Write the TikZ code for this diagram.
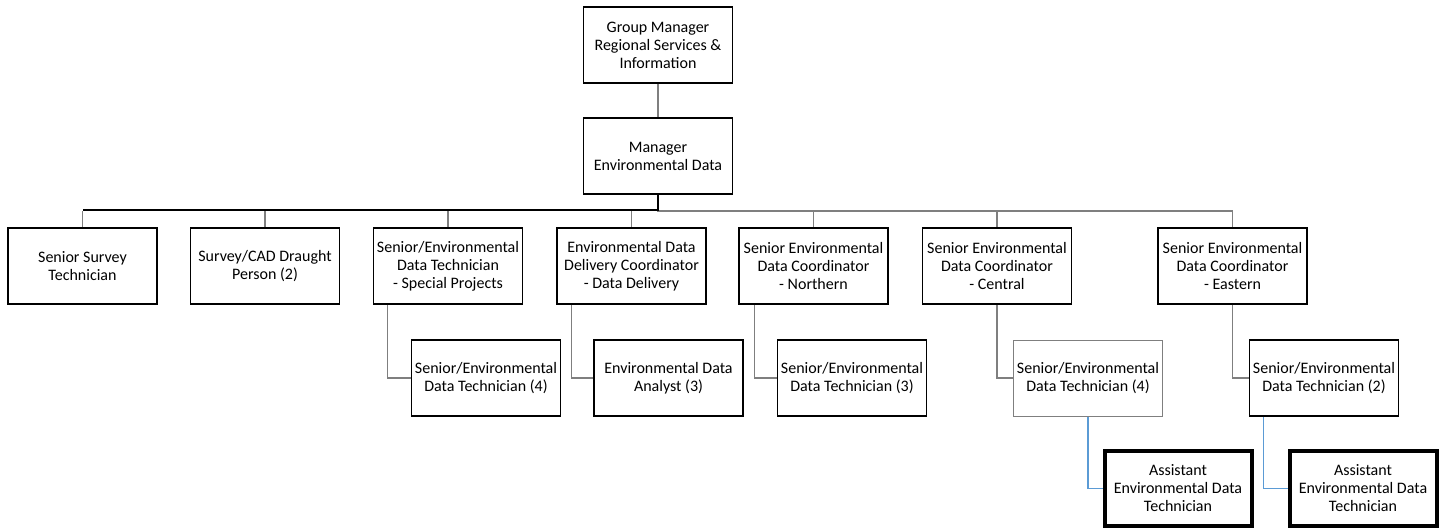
\documentclass[tikz,border=0pt]{standalone}
\usepackage{fontspec}
\setmainfont{Carlito}
\definecolor{lgray}{HTML}{7F7F7F}
\definecolor{lblue}{HTML}{5B9BD5}
\begin{document}
\begin{tikzpicture}[x=1pt,y=-1pt,
  box/.style={draw=black,line width=1.8pt,align=center,inner sep=0pt,
    font=\fontsize{16}{18}\selectfont,minimum width=149pt,minimum height=76pt},
  thinbox/.style={box,draw=lgray,line width=1pt},
  heavybox/.style={box,line width=4pt,minimum width=147pt,minimum height=75pt},
  conn/.style={draw=lgray,line width=1.2pt},
  bus/.style={draw=black,line width=2.4pt},
  blueconn/.style={draw=lblue,line width=1.4pt}]
\useasboundingbox (0,0) rectangle (1447,532);
% level 0/1
\node[box] (top) at (658,45) {Group Manager\\Regional Services \&\\Information};
\node[box] (mgr) at (658,156) {Manager\\Environmental Data};
% level 2
\node[box] (b1) at (82.5,266) {Senior Survey\\Technician};
\node[box] (b2) at (265,266) {Survey/CAD Draught\\Person (2)};
\node[box] (b3) at (448,266) {Senior/Environmental\\Data Technician\\- Special Projects};
\node[box] (b4) at (631.5,266) {Environmental Data\\Delivery Coordinator\\- Data Delivery};
\node[box] (b5) at (813.5,266) {Senior Environmental\\Data Coordinator\\- Northern};
\node[box] (b6) at (997,266) {Senior Environmental\\Data Coordinator\\- Central};
\node[box] (b7) at (1232.5,266) {Senior Environmental\\Data Coordinator\\- Eastern};
% level 3
\node[box] (c3) at (486,378) {Senior/Environmental\\Data Technician (4)};
\node[box] (c4) at (668.5,378) {Environmental Data\\Analyst (3)};
\node[box] (c5) at (852,378) {Senior/Environmental\\Data Technician (3)};
\node[thinbox] (c6) at (1088,378) {Senior/Environmental\\Data Technician (4)};
\node[box] (c7) at (1324,378) {Senior/Environmental\\Data Technician (2)};
% level 4
\node[heavybox] (d6) at (1178,488.5) {Assistant\\Environmental Data\\Technician};
\node[heavybox] (d7) at (1363,488.5) {Assistant\\Environmental Data\\Technician};
% bus
\coordinate (busL) at (82.5,210);
\coordinate (busM) at (658,210);
\coordinate (busR) at (1232.5,211);
\draw[conn] (top.south) -- (mgr.north);
\draw[conn] (busM) -- (658,211) -- (busR) -- (b7.north);
\foreach \b in {b1,b2,b3,b4,b5,b6}{
  \draw[conn] (\b.north |- busR) -- (\b.north);
}
\draw[bus] (mgr.south) -- (busM) -- (busL);
% elbows
\draw[conn] ([xshift=15pt]b3.south west) |- (c3.west);
\draw[conn] ([xshift=15pt]b4.south west) |- (c4.west);
\draw[conn] ([xshift=16pt]b5.south west) |- (c5.west);
\draw[conn] (b6.south) |- (c6.west);
\draw[conn] (b7.south) |- (c7.west);
\draw[blueconn] (c6.south) |- (d6.west);
\draw[blueconn] ([xshift=15pt]c7.south west) |- (d7.west);
\end{tikzpicture}
\end{document}
